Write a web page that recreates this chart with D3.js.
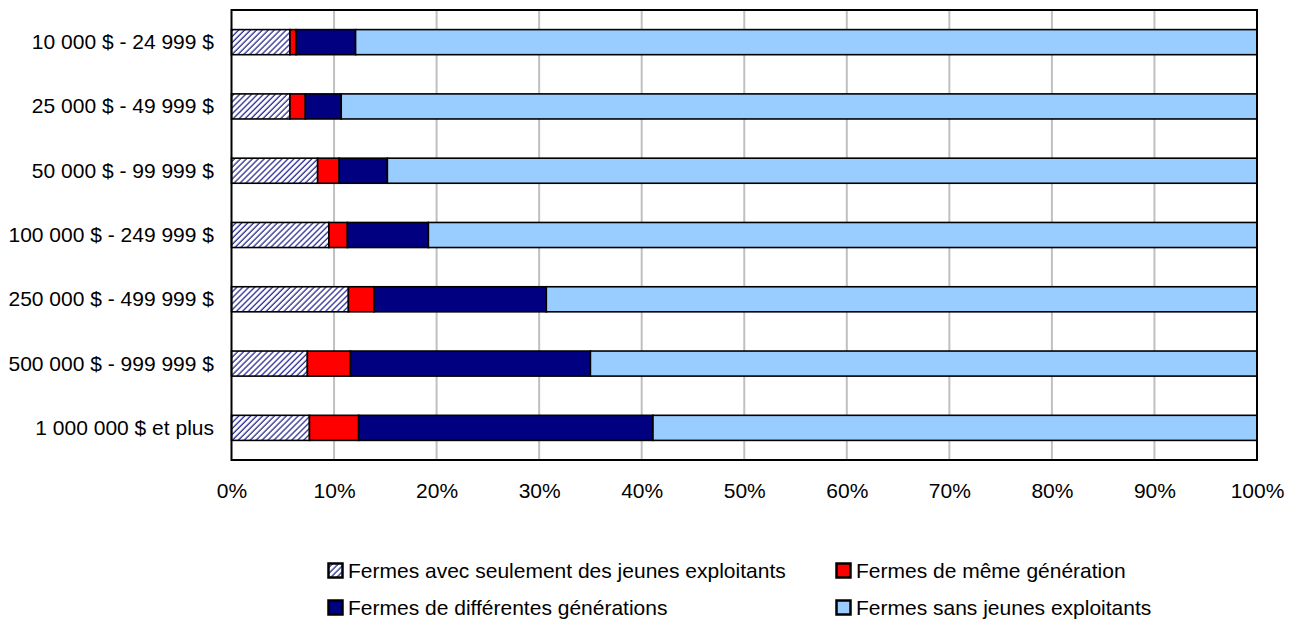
<!DOCTYPE html>
<html>
<head>
<meta charset="utf-8">
<script src="https://cdn.jsdelivr.net/npm/d3@7"></script>
<style>
  body { margin: 0; background: #fff; }
  text { font-family: "Liberation Sans", Arial, sans-serif; fill: #000; }
</style>
</head>
<body>
<svg id="chart" width="1294" height="620"></svg>
<script>
var categories = [
  '10 000 $ - 24 999 $',
  '25 000 $ - 49 999 $',
  '50 000 $ - 99 999 $',
  '100 000 $ - 249 999 $',
  '250 000 $ - 499 999 $',
  '500 000 $ - 999 999 $',
  '1 000 000 $ et plus'
];

var seriesNames = [
  'Fermes avec seulement des jeunes exploitants',
  'Fermes de même génération',
  'Fermes de différentes générations',
  'Fermes sans jeunes exploitants'
];

// percent values, one array per series, in category order
var jeunesSeuls   = [5.7, 5.7, 8.4, 9.5, 11.4, 7.4, 7.6];
var memeGen       = [0.6, 1.5, 2.1, 1.8, 2.5, 4.2, 4.8];
var diffGen       = [5.8, 3.5, 4.7, 7.9, 16.8, 23.4, 28.7];
var sansJeunes    = [87.9, 89.3, 84.8, 80.8, 69.3, 65.0, 58.9];

var tickValues = [0, 10, 20, 30, 40, 50, 60, 70, 80, 90, 100];

var fills = ['url(#hatch)', '#ff0000', '#000080', '#99ccff'];

var rows = categories.map(function (c, i) {
  return { cat: c, s0: jeunesSeuls[i], s1: memeGen[i], s2: diffGen[i], s3: sansJeunes[i] };
});
var keys = ['s0', 's1', 's2', 's3'];
var stacked = d3.stack().keys(keys)(rows);

var plot = { left: 231.5, right: 1257, top: 10, bottom: 460 };
var fontSize = '21px';

var svg = d3.select('#chart');

var defs = svg.append('defs');
var pat = defs.append('pattern')
  .attr('id', 'hatch')
  .attr('patternUnits', 'userSpaceOnUse')
  .attr('width', 4.2)
  .attr('height', 4.2)
  .attr('patternTransform', 'rotate(45)');
pat.append('rect').attr('width', 4.2).attr('height', 4.2).attr('fill', '#fff');
pat.append('line')
  .attr('x1', 1).attr('y1', 0).attr('x2', 1).attr('y2', 4.2)
  .attr('stroke', '#2a2a96').attr('stroke-width', 1.3);

var x = d3.scaleLinear().domain([0, 100]).range([plot.left, plot.right]);
var y = d3.scaleBand().domain(categories).range([plot.top, plot.bottom])
  .paddingInner(0.61).paddingOuter(0.305);

// gridlines
svg.append('g').selectAll('line')
  .data(tickValues.slice(1, -1))
  .enter().append('line')
  .attr('x1', function (d) { return x(d); })
  .attr('x2', function (d) { return x(d); })
  .attr('y1', plot.top)
  .attr('y2', plot.bottom)
  .attr('stroke', '#c0c0c0')
  .attr('stroke-width', 2);

// bars
var layers = svg.append('g').selectAll('g')
  .data(stacked)
  .enter().append('g')
  .attr('fill', function (d, i) { return fills[i]; });

layers.selectAll('rect')
  .data(function (d) { return d; })
  .enter().append('rect')
  .attr('x', function (d) { return x(d[0]); })
  .attr('width', function (d) { return x(d[1]) - x(d[0]); })
  .attr('y', function (d) { return y(d.data.cat); })
  .attr('height', y.bandwidth())
  .attr('stroke', '#000')
  .attr('stroke-width', 1.6);

// plot frame
svg.append('rect')
  .attr('x', plot.left)
  .attr('y', plot.top)
  .attr('width', plot.right - plot.left)
  .attr('height', plot.bottom - plot.top)
  .attr('fill', 'none')
  .attr('stroke', '#000')
  .attr('stroke-width', 2);

// x axis labels
var xAxis = d3.axisBottom(x)
  .tickValues(tickValues)
  .tickSize(0)
  .tickPadding(0)
  .tickFormat(function (d) { return d + '%'; });
var gx = svg.append('g')
  .attr('transform', 'translate(0,' + plot.bottom + ')')
  .call(xAxis);
gx.select('.domain').remove();
gx.selectAll('text')
  .attr('dy', null)
  .attr('y', 38)
  .style('font-size', fontSize)
  .style('font-family', '"Liberation Sans", Arial, sans-serif')
  .attr('fill', '#000');

// y axis labels
var yAxis = d3.axisLeft(y).tickSize(0).tickPadding(0);
var gy = svg.append('g')
  .attr('transform', 'translate(214,0)')
  .call(yAxis);
gy.select('.domain').remove();
gy.selectAll('text')
  .attr('dy', '0.33em')
  .style('font-size', fontSize)
  .style('font-family', '"Liberation Sans", Arial, sans-serif')
  .attr('fill', '#000');

// legend: two columns, two rows
var legendPos = [
  { x: 327, y: 562 },
  { x: 835, y: 562 },
  { x: 327, y: 599 },
  { x: 835, y: 599 }
];
var legend = svg.append('g').selectAll('g')
  .data(seriesNames)
  .enter().append('g')
  .attr('transform', function (d, i) {
    return 'translate(' + legendPos[i].x + ',' + legendPos[i].y + ')';
  });
legend.append('rect')
  .attr('x', 1.5).attr('y', 1.5)
  .attr('width', 14).attr('height', 14)
  .attr('fill', function (d, i) { return fills[i]; })
  .attr('stroke', '#000')
  .attr('stroke-width', 2.5);
legend.append('text')
  .attr('x', 21)
  .attr('y', 16)
  .style('font-size', fontSize)
  .text(function (d) { return d; });
</script>
</body>
</html>
